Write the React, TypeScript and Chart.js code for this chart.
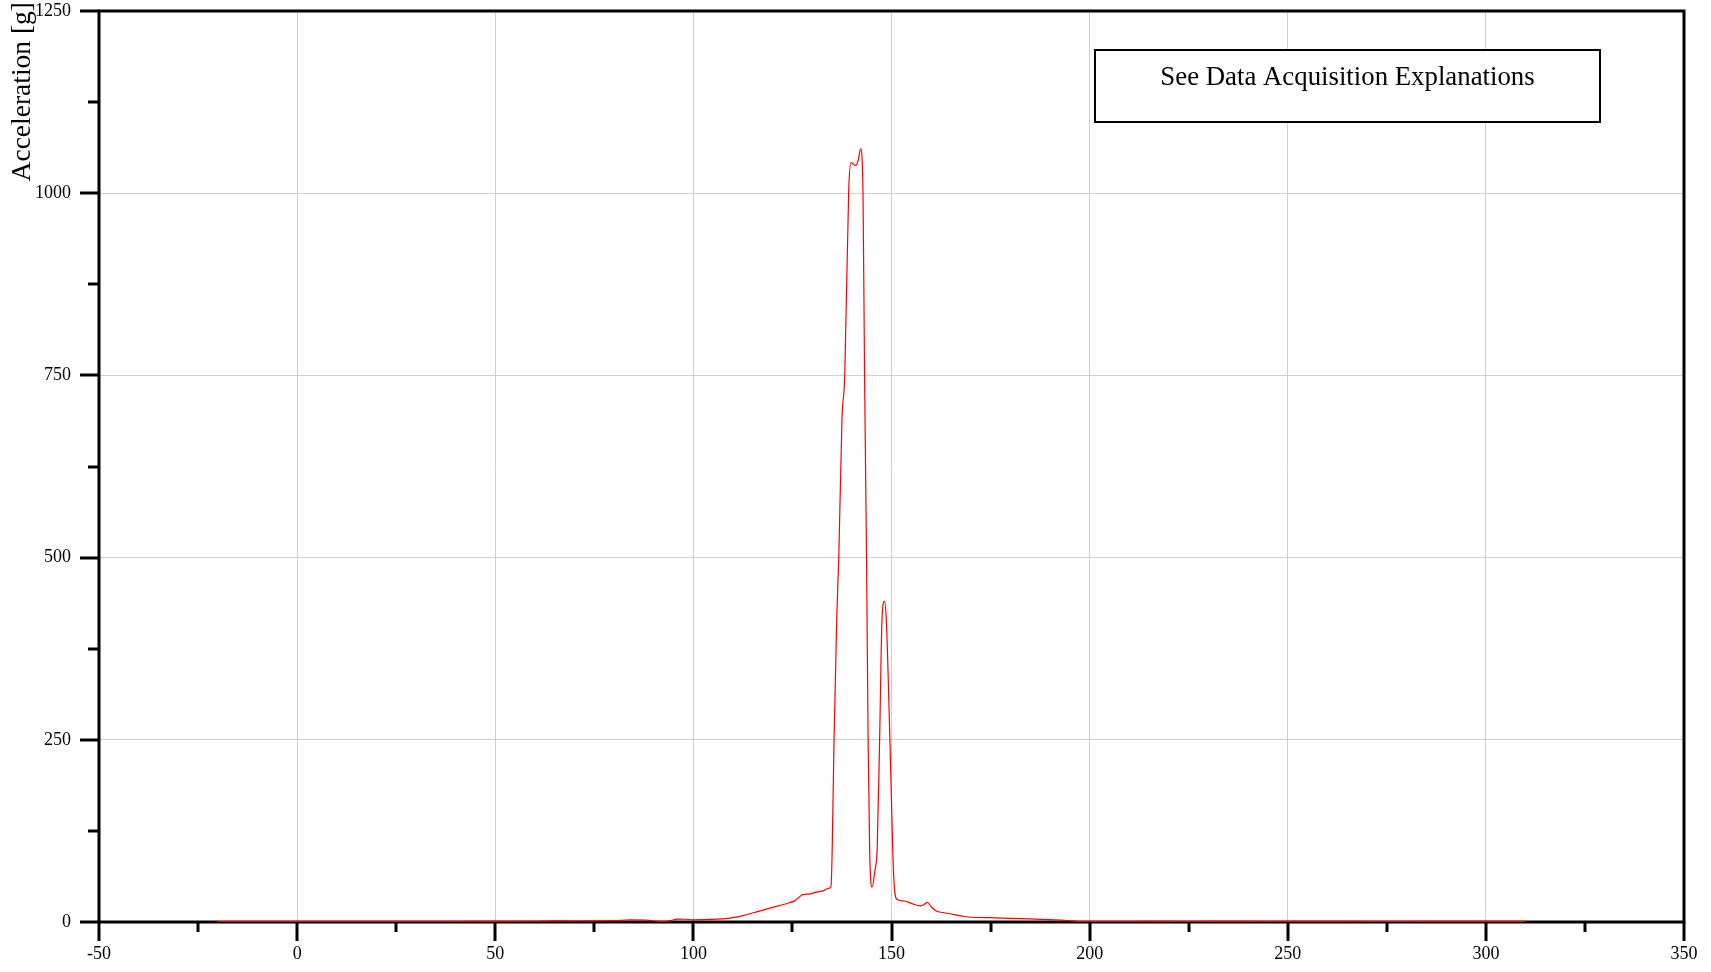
import React, { useEffect, useRef } from "react";
import { Chart, registerables } from "chart.js";

Chart.register(...registerables);

// Time [ms] and acceleration [g]
const timeMs: number[] = [
  -20, -10, 0, 10, 20, 30, 40, 50, 60, 65, 70, 75, 80, 84, 88, 92, 94, 96, 98, 100,
  104, 108, 110, 112, 114, 116, 118, 120, 122, 124, 125.5, 126.5, 127.5, 129.5, 131, 132.8, 134, 134.7,
  135.0, 135.5, 136.2, 136.7, 137.5, 138.2, 139.2, 139.8, 140.9, 141.6, 142.2, 142.8, 143.2, 143.7, 144.1,
  144.5, 145.1, 145.8, 146.4, 147.0, 147.6, 148.2, 148.7, 149.6, 150.6, 151.4, 153, 154.8, 157.3, 158.2,
  159, 160, 161.3, 163, 165, 167.5, 170, 175, 180, 185, 190, 195, 198.5, 205, 215, 225, 235, 245,
  255, 265, 275, 285, 295, 305, 310,
];
const accelG: number[] = [
  0.5, 0.6, 0.6, 0.5, 0.6, 0.5, 0.7, 0.8, 1.0, 1.5, 1.4, 1.6, 1.8, 2.8, 2.5, 0.8, 1.5, 4, 3.8, 3,
  3.5, 4.5, 6, 8, 11, 14, 17, 20, 23, 26, 29, 33, 37.5, 38.5, 41, 43, 46, 48,
  90, 250, 420, 501, 689, 750, 1004, 1042, 1038, 1045, 1061, 1004, 750, 501, 250,
  94, 48, 70, 103, 250, 414, 440, 414, 250, 58, 31, 29, 26, 22, 24,
  27, 21, 15, 13, 11, 8.5, 6.5, 6, 5, 4.2, 3.3, 1.8, 0.6, 0.6, 0.8, 0.7, 0.9, 0.7,
  0.9, 0.8, 0.7, 0.8, 0.9, 0.8, 0.8,
];

const xMin = -50;
const xMax = 350;
const xStep = 25;
const xLabelEvery = 50;
const yMin = 0;
const yMax = 1250;
const yStep = 125;
const yLabelEvery = 250;

const yTitle = "Acceleration [g]";
const noteText = "See Data Acquisition Explanations";

const FONT = "'Liberation Serif', 'Times New Roman', serif";

const framePlugin = {
  id: "frameTicks",
  beforeDatasetsDraw(chart: any) {
    const { ctx, chartArea: a, scales } = chart;
    const xs = scales.x;
    const ys = scales.y;
    ctx.save();
    ctx.strokeStyle = "#000";
    ctx.lineWidth = 3;
    ctx.lineCap = "butt";
    for (let v = xMin; v <= xMax; v += xStep) {
      const px = Math.round(xs.getPixelForValue(v));
      const len = v % xLabelEvery === 0 ? 19 : 10;
      ctx.beginPath();
      ctx.moveTo(px, a.bottom);
      ctx.lineTo(px, a.bottom + len);
      ctx.stroke();
    }
    for (let v = yMin; v <= yMax; v += yStep) {
      const py = Math.round(ys.getPixelForValue(v));
      const len = v % yLabelEvery === 0 ? 19 : 11;
      ctx.beginPath();
      ctx.moveTo(a.left - len, py);
      ctx.lineTo(a.left, py);
      ctx.stroke();
    }
    ctx.strokeRect(a.left, a.top, a.right - a.left, a.bottom - a.top);
    ctx.restore();
  },
  afterDraw(chart: any) {
    const { ctx } = chart;
    ctx.save();
    // y-axis title
    ctx.fillStyle = "#000";
    ctx.font = `27.5px ${FONT}`;
    ctx.translate(23, 2);
    ctx.rotate(-Math.PI / 2);
    ctx.textAlign = "right";
    ctx.textBaseline = "middle";
    ctx.fillText(yTitle, 0, 0);
    ctx.restore();

    // note box
    ctx.save();
    const bx = 1095, by = 50, bw = 505, bh = 72;
    ctx.fillStyle = "#fff";
    ctx.fillRect(bx, by, bw, bh);
    ctx.strokeStyle = "#000";
    ctx.lineWidth = 2;
    ctx.strokeRect(bx, by, bw, bh);
    ctx.fillStyle = "#000";
    ctx.font = `26.8px ${FONT}`;
    ctx.textAlign = "center";
    ctx.textBaseline = "middle";
    ctx.fillText(noteText, bx + bw / 2, 78);
    ctx.restore();
  },
};

export default function App() {
  const ref = useRef<HTMLCanvasElement>(null);

  useEffect(() => {
    if (!ref.current) return;
    const points = timeMs.map((t, i) => ({ x: t, y: accelG[i] }));
    const chart = new Chart(ref.current, {
      type: "line",
      data: {
        datasets: [
          {
            data: points,
            borderColor: "#ff0000",
            borderWidth: 1.2,
            pointRadius: 0,
            fill: false,
            cubicInterpolationMode: "monotone",
          },
        ],
      },
      plugins: [framePlugin],
      options: {
        responsive: false,
        animation: false,
        events: [],
        layout: { padding: { top: 11, right: 27, bottom: 0, left: 0 } },
        plugins: {
          legend: { display: false },
          tooltip: { enabled: false },
          title: { display: false },
        },
        scales: {
          x: {
            type: "linear",
            min: xMin,
            max: xMax,
            border: { display: false },
            grid: {
              color: (c: any) =>
                c.tick && c.tick.value % xLabelEvery === 0 ? "#cfcfcf" : "rgba(0,0,0,0)",
              lineWidth: 1,
              drawTicks: true,
              tickLength: 19,
              tickColor: "rgba(0,0,0,0)",
            },
            ticks: {
              stepSize: xStep,
              autoSkip: false,
              maxRotation: 0,
              padding: 2,
              color: "#000",
              font: { family: FONT, size: 18 },
              callback: (v: any) => (Number(v) % xLabelEvery === 0 ? String(v) : ""),
            },
            afterFit: (s: any) => {
              s.height = 50;
              s.paddingLeft = 0;
              s.paddingRight = 0;
            },
          },
          y: {
            type: "linear",
            min: yMin,
            max: yMax,
            border: { display: false },
            grid: {
              color: (c: any) =>
                c.tick && c.tick.value % yLabelEvery === 0 ? "#cfcfcf" : "rgba(0,0,0,0)",
              lineWidth: 1,
              drawTicks: true,
              tickLength: 19,
              tickColor: "rgba(0,0,0,0)",
            },
            ticks: {
              stepSize: yStep,
              autoSkip: false,
              padding: 9,
              color: "#000",
              font: { family: FONT, size: 18 },
              callback: (v: any) => (Number(v) % yLabelEvery === 0 ? String(v) : ""),
            },
            afterFit: (s: any) => {
              s.width = 99;
              s.paddingTop = 0;
              s.paddingBottom = 0;
            },
          },
        },
      } as any,
    });
    return () => chart.destroy();
  }, []);

  return (
    <div style={{ position: "fixed", left: 0, top: 0, width: 1711, height: 972, background: "#fff" }}>
      <canvas ref={ref} width={1711} height={972} style={{ display: "block" }} />
    </div>
  );
}
